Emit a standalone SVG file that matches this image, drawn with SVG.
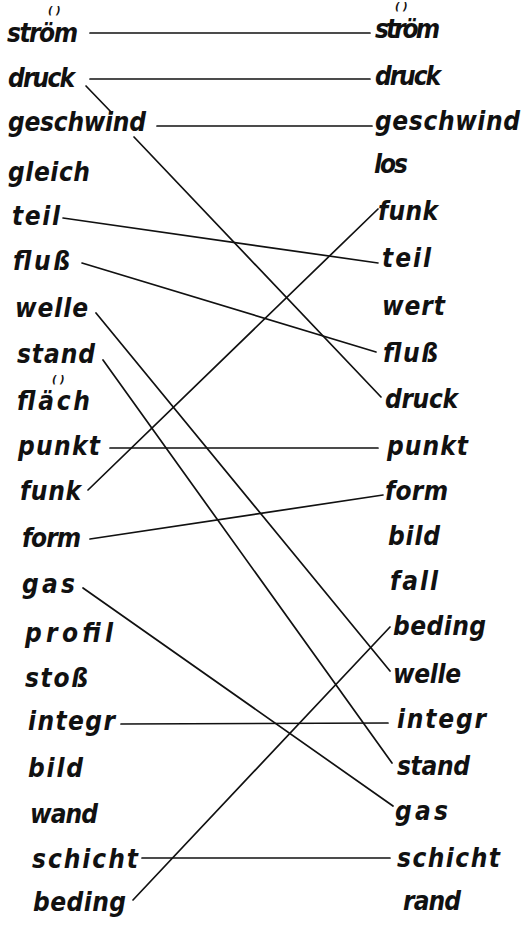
<svg xmlns="http://www.w3.org/2000/svg" width="525" height="925" viewBox="0 0 525 925">
<style>
.w{font-family:"DejaVu Sans","Noto Sans",sans-serif;font-stretch:semi-condensed;font-weight:bold;font-style:italic;font-size:26px;fill:#111}
.p{font-family:"DejaVu Sans",sans-serif;font-weight:bold;font-style:italic;font-size:10px;fill:#111}
.c{stroke:#111;stroke-width:1.7;fill:none;stroke-linecap:round}
</style>
<rect width="525" height="925" fill="#fff"/>
<g id="connectors">
<line class="c" x1="90" y1="33" x2="370" y2="33"/>
<line class="c" x1="90" y1="79" x2="370" y2="79"/>
<line class="c" x1="157" y1="126" x2="372" y2="126"/>
<line class="c" x1="86" y1="86" x2="112" y2="113"/>
<line class="c" x1="134" y1="137" x2="381" y2="397"/>
<line class="c" x1="63" y1="218" x2="378" y2="263"/>
<line class="c" x1="82" y1="263" x2="376" y2="352"/>
<line class="c" x1="96" y1="313" x2="390" y2="671"/>
<line class="c" x1="103" y1="360" x2="392" y2="763"/>
<line class="c" x1="110" y1="448" x2="378" y2="448"/>
<line class="c" x1="88" y1="490" x2="378" y2="209"/>
<line class="c" x1="90" y1="539" x2="383" y2="495"/>
<line class="c" x1="83" y1="588" x2="393" y2="806"/>
<line class="c" x1="121" y1="724" x2="388" y2="723"/>
<line class="c" x1="142" y1="858" x2="390" y2="858"/>
<line class="c" x1="133" y1="900" x2="390" y2="627"/>
</g>
<g id="L-strom"><text class="w" x="7" y="42" textLength="71">ström</text><text class="p" x="48" y="14">( )</text></g>
<g id="L-druck"><text class="w" x="8" y="87" textLength="67">druck</text></g>
<g id="L-geschwind"><text class="w" x="8" y="131" textLength="138">geschwind</text></g>
<g id="L-gleich"><text class="w" x="8" y="181" textLength="82">gleich</text></g>
<g id="L-teil"><text class="w" x="12" y="225" textLength="48">teil</text></g>
<g id="L-fluss"><text class="w" x="13" y="270" textLength="57">fluß</text></g>
<g id="L-welle"><text class="w" x="15" y="317" textLength="73">welle</text></g>
<g id="L-stand"><text class="w" x="17" y="363" textLength="78">stand</text></g>
<g id="L-flaech"><text class="w" x="17" y="410" textLength="73">fläch</text><text class="p" x="52" y="383">( )</text></g>
<g id="L-punkt"><text class="w" x="18" y="455" textLength="82">punkt</text></g>
<g id="L-funk"><text class="w" x="20" y="500" textLength="61">funk</text></g>
<g id="L-form"><text class="w" x="22" y="547" textLength="59">form</text></g>
<g id="L-gas"><text class="w" x="22" y="593" textLength="53">gas</text></g>
<g id="L-profil"><text class="w" x="25" y="642" textLength="88">profil</text></g>
<g id="L-stoss"><text class="w" x="25" y="687" textLength="63">stoß</text></g>
<g id="L-integr"><text class="w" x="28" y="730" textLength="87">integr</text></g>
<g id="L-bild"><text class="w" x="28" y="777" textLength="55">bild</text></g>
<g id="L-wand"><text class="w" x="30" y="823" textLength="68">wand</text></g>
<g id="L-schicht"><text class="w" x="32" y="868" textLength="106">schicht</text></g>
<g id="L-beding"><text class="w" x="33" y="911" textLength="93">beding</text></g>
<g id="R-strom"><text class="w" x="375" y="38" textLength="65">ström</text><text class="p" x="395" y="10">( )</text></g>
<g id="R-druck"><text class="w" x="375" y="85" textLength="66">druck</text></g>
<g id="R-geschwind"><text class="w" x="375" y="130" textLength="145">geschwind</text></g>
<g id="R-los"><text class="w" x="374" y="173" textLength="34">los</text></g>
<g id="R-funk"><text class="w" x="378" y="220" textLength="60">funk</text></g>
<g id="R-teil"><text class="w" x="382" y="267" textLength="49">teil</text></g>
<g id="R-wert"><text class="w" x="382" y="315" textLength="63">wert</text></g>
<g id="R-fluss"><text class="w" x="383" y="362" textLength="55">fluß</text></g>
<g id="R-druck2"><text class="w" x="385" y="408" textLength="73">druck</text></g>
<g id="R-punkt"><text class="w" x="387" y="455" textLength="81">punkt</text></g>
<g id="R-form"><text class="w" x="385" y="500" textLength="63">form</text></g>
<g id="R-bild"><text class="w" x="388" y="545" textLength="52">bild</text></g>
<g id="R-fall"><text class="w" x="390" y="590" textLength="48">fall</text></g>
<g id="R-beding"><text class="w" x="393" y="635" textLength="93">beding</text></g>
<g id="R-welle"><text class="w" x="393" y="683" textLength="68">welle</text></g>
<g id="R-integr"><text class="w" x="397" y="728" textLength="89">integr</text></g>
<g id="R-stand"><text class="w" x="397" y="775" textLength="73">stand</text></g>
<g id="R-gas"><text class="w" x="395" y="820" textLength="53">gas</text></g>
<g id="R-schicht"><text class="w" x="397" y="867" textLength="103">schicht</text></g>
<g id="R-rand"><text class="w" x="403" y="910" textLength="58">rand</text></g>
</svg>
